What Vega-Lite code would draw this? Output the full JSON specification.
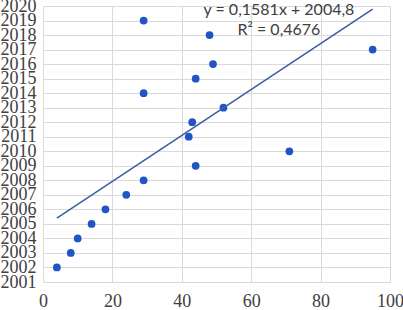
{
  "$schema": "https://vega.github.io/schema/vega-lite/v6.json",
  "width": 347,
  "height": 276,
  "autosize": {"type": "none"},
  "padding": {"left": 43, "top": 6, "right": 13, "bottom": 28},
  "background": "white",
  "config": {
    "view": {"stroke": null},
    "axis": {
      "domain": false,
      "ticks": false,
      "gridColor": "#d9d9d9",
      "gridWidth": 1,
      "labelFont": "Liberation Serif",
      "labelFontSize": 18,
      "labelColor": "#404040",
      "labelOverlap": false,
      "labelBound": false,
      "title": null
    }
  },
  "datasets": {
    "points": [
      {"x": 4, "year": 2002},
      {"x": 8, "year": 2003},
      {"x": 10, "year": 2004},
      {"x": 14, "year": 2005},
      {"x": 18, "year": 2006},
      {"x": 24, "year": 2007},
      {"x": 29, "year": 2008},
      {"x": 44, "year": 2009},
      {"x": 71, "year": 2010},
      {"x": 42, "year": 2011},
      {"x": 43, "year": 2012},
      {"x": 52, "year": 2013},
      {"x": 29, "year": 2014},
      {"x": 44, "year": 2015},
      {"x": 49, "year": 2016},
      {"x": 95, "year": 2017},
      {"x": 48, "year": 2018},
      {"x": 29, "year": 2019}
    ],
    "labels": [
      {"label": "y = 0,1581x + 2004,8", "lx": 68, "ly": 2019.72},
      {"label": "R² = 0,4676", "lx": 68, "ly": 2018.33}
    ]
  },
  "layer": [
    {
      "data": {"name": "points"},
      "mark": {"type": "point", "filled": true, "opacity": 1, "size": 60, "color": "#2155c5"},
      "encoding": {
        "x": {
          "field": "x", "type": "quantitative",
          "scale": {"domain": [0, 100], "nice": false},
          "axis": {"values": [0, 20, 40, 60, 80, 100], "labelFlush": false, "labelPadding": 10}
        },
        "y": {
          "field": "year", "type": "quantitative",
          "scale": {"domain": [2001, 2020], "nice": false, "zero": false},
          "axis": {
            "values": [2001, 2002, 2003, 2004, 2005, 2006, 2007, 2008, 2009, 2010, 2011, 2012, 2013, 2014, 2015, 2016, 2017, 2018, 2019, 2020],
            "tickCount": 20,
            "format": "d",
            "labelPadding": 7,
            "labelFlush": false,
            "labelOverlap": false
          }
        }
      }
    },
    {
      "data": {"name": "points"},
      "transform": [{"regression": "year", "on": "x"}],
      "mark": {"type": "line", "color": "#3b5ba5", "strokeWidth": 1.5},
      "encoding": {
        "x": {"field": "x", "type": "quantitative"},
        "y": {"field": "year", "type": "quantitative"}
      }
    },
    {
      "data": {"name": "labels"},
      "mark": {"type": "text", "font": "Lato", "fontSize": 16, "color": "#404040", "align": "center", "baseline": "middle"},
      "encoding": {
        "x": {"field": "lx", "type": "quantitative"},
        "y": {"field": "ly", "type": "quantitative"},
        "text": {"field": "label"}
      }
    }
  ]
}
